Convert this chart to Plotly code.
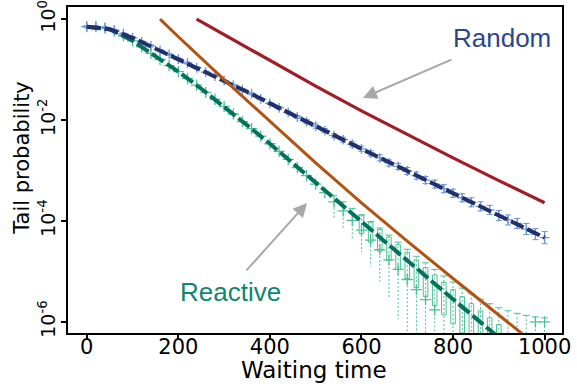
import plotly.graph_objects as go

# ---------------- data (log10 of tail probability) ----------------
theory_x = [0, 50, 100, 150, 200, 250, 300, 350, 400, 450, 500, 550, 600, 650, 700, 750, 800, 850, 900, 950, 1000]
random_theory = [-0.15, -0.20, -0.37, -0.58, -0.79, -1.00, -1.22, -1.44, -1.67, -1.90, -2.12, -2.35, -2.57,
                 -2.79, -3.01, -3.23, -3.45, -3.67, -3.89, -4.11, -4.33]
reactive_theory_x = [0, 50, 100, 150, 200, 250, 300, 350, 400, 450, 500, 550, 600, 650, 700, 750, 800, 850, 900]
reactive_theory = [-0.15, -0.20, -0.43, -0.74, -1.04, -1.38, -1.73, -2.10, -2.47, -2.85, -3.23, -3.62, -4.01,
                   -4.40, -4.79, -5.17, -5.55, -5.93, -6.31]

bound_orange_x = [160, 200, 300, 400, 500, 600, 700, 800, 900, 960]
bound_orange = [0.0, -0.35, -1.20, -2.03, -2.85, -3.64, -4.40, -5.14, -5.87, -6.30]
bound_red_x = [240, 300, 400, 500, 600, 700, 800, 900, 1000]
bound_red = [0.0, -0.31, -0.83, -1.33, -1.82, -2.29, -2.75, -3.20, -3.64]

sim_x = [0, 20, 40, 60, 80, 100, 120, 140, 160, 180, 200, 220, 240, 260, 280, 300, 320, 340, 360, 380, 400,
         420, 440, 460, 480, 500, 520, 540, 560, 580, 600, 620, 640, 660, 680, 700, 720, 740, 760, 780, 800,
         820, 840, 860, 880, 900, 920, 940, 960, 980, 1000]
random_sim = [-0.15, -0.15, -0.17, -0.22, -0.29, -0.37, -0.45, -0.53, -0.62, -0.70, -0.79, -0.87, -0.96, -1.05,
              -1.13, -1.22, -1.31, -1.40, -1.48, -1.58, -1.67, -1.76, -1.85, -1.94, -2.03, -2.12, -2.21, -2.31,
              -2.39, -2.48, -2.57, -2.66, -2.75, -2.85, -2.92, -3.01, -3.10, -3.19, -3.27, -3.36, -3.45, -3.54,
              -3.63, -3.71, -3.78, -3.89, -3.98, -4.05, -4.16, -4.26, -4.33]
random_err = [0.02, 0.02, 0.02, 0.02, 0.02, 0.02, 0.02, 0.02, 0.02, 0.02, 0.02, 0.02, 0.02, 0.02, 0.02, 0.02,
              0.02, 0.02, 0.02, 0.02, 0.02, 0.03, 0.03, 0.03, 0.04, 0.04, 0.04, 0.04, 0.05, 0.05, 0.05, 0.05,
              0.06, 0.06, 0.06, 0.07, 0.07, 0.07, 0.08, 0.08, 0.08, 0.08, 0.09, 0.09, 0.09, 0.10, 0.10, 0.10,
              0.11, 0.11, 0.12]

reactive_sim_x = [0, 20, 40, 60, 80, 100, 120, 140, 160, 180, 200, 220, 240, 260, 280, 300, 320, 340, 360, 380,
                  400, 420, 440, 460, 480, 500, 520, 540, 560, 580, 600, 620, 640, 660, 680, 700, 720, 740, 760,
                  980, 1000]
reactive_sim = [-0.15, -0.15, -0.18, -0.24, -0.33, -0.43, -0.55, -0.68, -0.80, -0.92, -1.04, -1.18, -1.31, -1.45,
                -1.59, -1.73, -1.88, -2.03, -2.17, -2.32, -2.47, -2.62, -2.78, -2.94, -3.10, -3.27, -3.44, -3.62,
                -3.80, -3.99, -4.18, -4.38, -4.57, -4.77, -4.96, -5.16, -5.36, -5.56, -5.76, -6.00, -6.00]

whisker_x = [540, 560, 580, 600, 620, 640, 660, 680, 700, 720, 740, 760, 780, 800, 820, 840, 860, 880, 900,
             920, 940, 960, 980, 1000]
whisker_top = [-3.50, -3.62, -3.75, -3.88, -4.01, -4.14, -4.28, -4.42, -4.56, -4.70, -4.83, -4.96, -5.09,
               -5.21, -5.33, -5.44, -5.55, -5.64, -5.72, -5.78, -5.83, -5.87, -5.90, -5.92]
whisker_bottom = [-3.95, -4.15, -4.38, -4.62, -4.90, -5.20, -5.55, -5.95, -6.50, -6.50, -6.50, -6.50,
                  -6.50, -6.50, -6.50, -6.50, -6.50, -6.50, -6.50, -6.50, -6.50, -6.50, -6.50, -6.50]

box_x = [600, 620, 640, 660, 680, 700, 720, 740, 760, 780, 800, 820, 840, 860, 880, 900]
box_hi = [-3.88, -4.02, -4.17, -4.32, -4.47, -4.62, -4.77, -4.92, -5.07, -5.22, -5.36, -5.50, -5.64, -5.78,
          -5.92, -6.05]
box_lo = [-4.25, -4.42, -4.60, -4.78, -4.96, -5.14, -5.32, -5.50, -5.68, -5.86, -6.04, -6.22, -6.40, -6.40,
          -6.40, -6.40]

x_ticks = [0, 200, 400, 600, 800, 1000]
y_ticks = [1, 1e-2, 1e-4, 1e-6]
y_ticktext = ["10<sup>0</sup>", "10<sup>-2</sup>", "10<sup>-4</sup>", "10<sup>-6</sup>"]

# ---------------- styling ----------------
NAVY = "#212f6c"
BLUE_LIGHT = "#6b93d6"
TEAL = "#00725e"
GREEN_LIGHT = "#4cc195"
ORANGE = "#b2530f"
RED = "#a21c26"
GREY = "#a8a8a8"

p = lambda v: 10 ** v

fig = go.Figure()

# dotted whiskers for reactive simulation
wx, wy = [], []
for x, t, b in zip(whisker_x, whisker_top, whisker_bottom):
    wx += [x, x, None]
    wy += [p(t), p(b), None]
fig.add_trace(go.Scatter(x=wx, y=wy, mode="lines", line=dict(color=GREEN_LIGHT, width=1, dash="2px,2px"),
                         hoverinfo="skip", showlegend=False))
fig.add_trace(go.Scatter(x=whisker_x, y=[p(t) for t in whisker_top], mode="markers",
                         marker=dict(symbol="line-ew", size=5, line=dict(color=GREEN_LIGHT, width=1)),
                         hoverinfo="skip", showlegend=False))

# boxes
bx, by = [], []
for x, lo, hi in zip(box_x, box_lo, box_hi):
    bx += [x - 5, x + 5, x + 5, x - 5, x - 5, None]
    by += [p(hi), p(hi), p(lo), p(lo), p(hi), None]
fig.add_trace(go.Scatter(x=bx, y=by, mode="lines", line=dict(color=GREEN_LIGHT, width=1),
                         hoverinfo="skip", showlegend=False))

# reactive sim markers
fig.add_trace(go.Scatter(x=reactive_sim_x, y=[p(v) for v in reactive_sim], mode="markers",
                         marker=dict(symbol="cross-thin", size=8, line=dict(color=GREEN_LIGHT, width=1.3)),
                         showlegend=False))

# random sim markers with error bars
fig.add_trace(go.Scatter(
    x=sim_x, y=[p(v) for v in random_sim], mode="markers",
    marker=dict(symbol="cross-thin", size=7, line=dict(color=BLUE_LIGHT, width=1.3)),
    error_y=dict(type="data", symmetric=False,
                 array=[p(v + e) - p(v) for v, e in zip(random_sim, random_err)],
                 arrayminus=[p(v) - p(v - e) for v, e in zip(random_sim, random_err)],
                 color=BLUE_LIGHT, thickness=1, width=3),
    showlegend=False))

# theory dashed curves
fig.add_trace(go.Scatter(x=reactive_theory_x, y=[p(v) for v in reactive_theory], mode="lines",
                         line=dict(color=TEAL, width=4, dash="14px,4px"), showlegend=False))
fig.add_trace(go.Scatter(x=theory_x, y=[p(v) for v in random_theory], mode="lines",
                         line=dict(color=NAVY, width=4, dash="14px,4px"), showlegend=False))

# bounds
fig.add_trace(go.Scatter(x=bound_orange_x, y=[p(v) for v in bound_orange], mode="lines",
                         line=dict(color=ORANGE, width=3), showlegend=False))
fig.add_trace(go.Scatter(x=bound_red_x, y=[p(v) for v in bound_red], mode="lines",
                         line=dict(color=RED, width=3.2), showlegend=False))

axis_common = dict(showline=True, mirror=True, linecolor="black", linewidth=2, ticks="outside",
                   ticklen=5, tickwidth=1.5, tickcolor="black", showgrid=False, zeroline=False,
                   automargin=False)

fig.update_layout(
    width=577, height=384,
    margin=dict(l=68, r=15, t=7, b=51),
    plot_bgcolor="white", paper_bgcolor="white",
    xaxis=dict(range=[-41, 1038], tickvals=x_ticks, ticklabelstandoff=-11,
               tickfont=dict(family="DejaVu Sans", size=21, color="black"), **axis_common),
    yaxis=dict(type="log", range=[-6.22, 0.24], tickvals=y_ticks, ticktext=y_ticktext, tickangle=-90,
               ticklabelstandoff=-2, ticklabeloverflow="allow",
               tickfont=dict(family="DejaVu Sans", size=19, color="black"), **axis_common),
    annotations=[
        dict(text="Waiting time", xref="paper", yref="paper", x=0.498, y=-0.115, xanchor="center",
             yanchor="middle", showarrow=False, font=dict(family="DejaVu Sans", size=23, color="black")),
        dict(text="Tail probability", xref="paper", yref="paper", x=-0.092, y=0.536, xanchor="center",
             yanchor="middle", textangle=-90, showarrow=False,
             font=dict(family="DejaVu Sans", size=21, color="black")),
        dict(text="Random", xref="paper", yref="paper", x=0.878, y=0.906, xanchor="center", yanchor="middle",
             showarrow=False, font=dict(family="Liberation Sans", size=26, color="#2d4689")),
        dict(text="Reactive", xref="paper", yref="paper", x=0.328, y=0.125, xanchor="center", yanchor="middle",
             showarrow=False, font=dict(family="Liberation Sans", size=26, color="#108670")),
        dict(text="", xref="paper", yref="paper", x=0.597, y=0.721, ax=90, ay=-39, showarrow=True,
             arrowhead=2, arrowsize=1.4, arrowwidth=2, arrowcolor=GREY),
        dict(text="", xref="paper", yref="paper", x=0.484, y=0.399, ax=-62, ay=69, showarrow=True,
             arrowhead=2, arrowsize=1.4, arrowwidth=2, arrowcolor=GREY),
    ],
)

fig.write_html("out.html", config={"displayModeBar": False},
               post_script="document.body.style.margin='0';document.body.style.overflow='hidden';")
